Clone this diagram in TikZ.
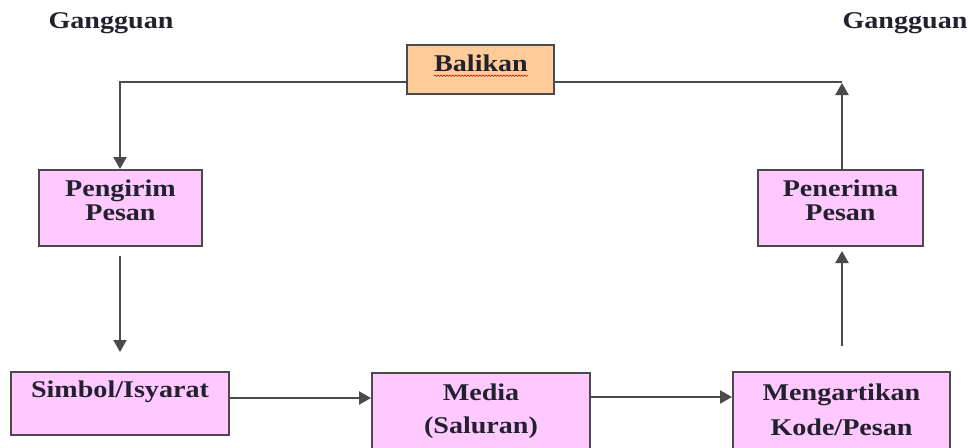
\documentclass[tikz,border=0pt]{standalone}
\usepackage{fontspec}
\setmainfont{Liberation Serif}[FakeStretch=1.17]
\usetikzlibrary{arrows.meta,decorations.pathmorphing}
\definecolor{pinkbox}{HTML}{FFC8FF}
\definecolor{peach}{HTML}{FFCC99}
\definecolor{edge}{HTML}{4A4A4A}
\definecolor{ink}{HTML}{22222E}
\begin{document}
\begin{tikzpicture}[x=1pt,y=-1pt,
  pbox/.style={draw=edge, line width=2pt, rectangle, inner sep=0pt, fill=pinkbox},
  obox/.style={draw=edge, line width=2pt, rectangle, inner sep=0pt, fill=peach},
  txt/.style={inner sep=0pt, text=ink, align=center, font=\fontsize{24}{#1}\selectfont\bfseries},
  txt/.default=24,
  ln/.style={draw=edge, line width=2.2pt},
  arr/.style={ln, -{Triangle[length=12pt,width=13pt]}}]
\useasboundingbox (0,0) rectangle (974,447);
\fill[white] (0,0) rectangle (974,447);
\clip (0,0) rectangle (974,447);

% labels
\node[txt] (g1) at (111,23) {Gangguan};
\node[txt] (g2) at (905,23) {Gangguan};

% boxes
\node[obox, minimum width=147pt, minimum height=49pt] (balikan) at (480.5,69.5) {};
\node[txt] (balikanT) at (481,63) {Balikan};
\draw[red!85!black, line width=0.6pt, decorate, decoration={snake, segment length=3pt, amplitude=0.7pt}]
  ([yshift=-4pt]balikanT.south west) -- ([yshift=-4pt]balikanT.south east);

\node[pbox, minimum width=163pt, minimum height=76pt] (pengirim) at (120.5,208) {};
\node[txt] (pengirimT) at (120.5,200) {Pengirim\\Pesan};

\node[pbox, minimum width=165pt, minimum height=76pt] (penerima) at (840.5,208) {};
\node[txt] (penerimaT) at (840.5,200) {Penerima\\Pesan};

\node[pbox, minimum width=218pt, minimum height=63pt] (simbol) at (120,403.5) {};
\node[txt] (simbolT) at (120,392) {Simbol/Isyarat};

\node[pbox, minimum width=218pt, minimum height=87pt] (media) at (481,416.5) {};
\node[txt=33] (mediaT) at (481,411) {Media\\(Saluran)};

\node[pbox, minimum width=217pt, minimum height=88pt] (arti) at (841.5,416) {};
\node[txt=35] (artiT) at (841.5,410) {Mengartikan\\Kode/Pesan};

% connectors
\coordinate (tl) at (120,82);
\coordinate (tr) at (842,82);
\coordinate (h1) at (300,398);
\coordinate (h2) at (660,397);

\draw[arr] (balikan.west |- tl) -- (tl) -- (tl |- pengirim.north);
\draw[ln] (balikan.east |- tr) -- (tr);
\draw[arr] (tr |- penerima.north) -- ([yshift=-1pt]tr);
\draw[arr, shorten <=9pt, shorten >=19pt] (tl |- pengirim.south) -- (tl |- simbol.north);
\draw[arr] (simbol.east |- h1) -- (media.west |- h1);
\draw[arr] (media.east |- h2) -- (arti.west |- h2);
\draw[arr, shorten <=25pt, shorten >=4pt] (tr |- arti.north) -- (tr |- penerima.south);
\end{tikzpicture}
\end{document}
